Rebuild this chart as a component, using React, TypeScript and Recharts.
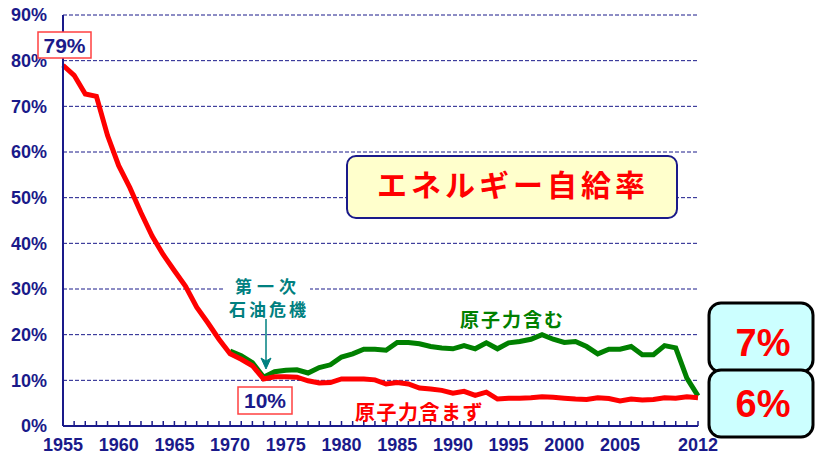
import React from 'react';
import { LineChart, Line, XAxis, YAxis, CartesianGrid } from 'recharts';

const years = [
  1955, 1956, 1957, 1958, 1959, 1960, 1961, 1962, 1963, 1964,
  1965, 1966, 1967, 1968, 1969, 1970, 1971, 1972, 1973, 1974,
  1975, 1976, 1977, 1978, 1979, 1980, 1981, 1982, 1983, 1984,
  1985, 1986, 1987, 1988, 1989, 1990, 1991, 1992, 1993, 1994,
  1995, 1996, 1997, 1998, 1999, 2000, 2001, 2002, 2003, 2004,
  2005, 2006, 2007, 2008, 2009, 2010, 2011, 2012,
];

// 原子力含まず (red)
const withoutNuclear = [
  79.0, 76.8, 72.7, 72.2, 63.6, 57.0, 52.2, 46.7, 41.6, 37.5,
  34.0, 30.6, 26.0, 22.6, 19.0, 15.8, 14.6, 13.2, 10.3, 10.8,
  10.8, 10.7, 9.9, 9.4, 9.5, 10.3, 10.3, 10.3, 10.1, 9.2,
  9.5, 9.2, 8.3, 8.1, 7.8, 7.2, 7.6, 6.7, 7.4, 5.9,
  6.1, 6.1, 6.2, 6.4, 6.3, 6.1, 5.9, 5.8, 6.2, 6.0,
  5.5, 5.9, 5.7, 5.8, 6.2, 6.1, 6.4, 6.2,
];

// 原子力含む (green), only drawn from 1970
const withNuclear = [
  null, null, null, null, null, null, null, null, null, null,
  null, null, null, null, null, 16.4, 15.4, 13.9, 10.7, 11.9,
  12.2, 12.3, 11.6, 12.8, 13.4, 15.1, 15.8, 16.8, 16.8, 16.6,
  18.3, 18.3, 18.0, 17.4, 17.1, 16.9, 17.6, 16.9, 18.2, 16.9,
  18.2, 18.5, 19.0, 20.0, 19.0, 18.3, 18.5, 17.4, 15.8, 16.8,
  16.8, 17.4, 15.6, 15.6, 17.6, 17.1, 10.5, 6.6,
];

const xLabelYears = [1955, 1960, 1965, 1970, 1975, 1980, 1985, 1990, 1995, 2000, 2005, 2012];
const yTicks = [0, 10, 20, 30, 40, 50, 60, 70, 80, 90];

const data = years.map((year, i) => ({
  year,
  without: withoutNuclear[i],
  with: withNuclear[i],
}));

const NAVY = '#1a1a8a';
const FONT = '"Liberation Sans", Arial, "Noto Sans CJK JP", sans-serif';
const JP = '"Noto Sans CJK JP", "Liberation Sans", sans-serif';

const XTick = (props: any) => {
  const { x, y, payload } = props;
  const v = payload.value;
  return (
    <g>
      <line x1={x} x2={x} y1={y - 5} y2={y} stroke={NAVY} strokeWidth={1.5} />
      {xLabelYears.includes(v) && (
        <text x={x} y={y + 25} textAnchor="middle" fill={NAVY} fontSize={18} fontWeight="bold" fontFamily={FONT}>
          {v}
        </text>
      )}
    </g>
  );
};

const App: React.FC = () => {
  return (
    <div style={{ position: 'absolute', left: 0, top: 0, width: 815, height: 456, background: '#fff' }}>
      <LineChart width={815} height={456} data={data} margin={{ top: 15, right: 117, bottom: 0, left: 0 }}>
        <CartesianGrid horizontal vertical={false} stroke={NAVY} strokeDasharray="4 2" strokeWidth={1} />
        <XAxis
          dataKey="year"
          type="number"
          domain={[1955, 2012]}
          ticks={years}
          interval={0}
          height={30}
          tickSize={0}
          tickMargin={0}
          tickLine={false}
          axisLine={{ stroke: NAVY, strokeWidth: 2 }}
          tick={<XTick />}
        />
        <YAxis
          domain={[0, 90]}
          ticks={yTicks}
          interval={0}
          width={63}
          tickSize={0}
          tickMargin={16}
          tickLine={false}
          axisLine={{ stroke: NAVY, strokeWidth: 2 }}
          tickFormatter={(v: number) => `${v}%`}
          tick={{ fill: NAVY, fontSize: 18, fontWeight: 'bold', fontFamily: FONT }}
        />
        <Line dataKey="with" stroke="#008000" strokeWidth={5} dot={false} isAnimationActive={false} connectNulls={false} />
        <Line dataKey="without" stroke="#ff0000" strokeWidth={5} dot={false} isAnimationActive={false} />
      </LineChart>

      <svg width={815} height={456} style={{ position: 'absolute', left: 0, top: 0 }}>
        {/* 79% */}
        <rect x={38} y={32} width={53} height={26} fill="#fff" stroke="#ff4040" strokeWidth={1.5} />
        <text x={64.5} y={53} textAnchor="middle" fill={NAVY} fontSize={21} fontWeight="bold" fontFamily={FONT}>79%</text>

        {/* 10% */}
        <rect x={238} y={387} width={54} height={27} fill="#fff" stroke="#ff4040" strokeWidth={1.5} />
        <text x={265} y={408} textAnchor="middle" fill={NAVY} fontSize={21} fontWeight="bold" fontFamily={FONT}>10%</text>

        {/* title box */}
        <rect x={347} y={156} width={330} height={62} rx={9} fill="#ffffcc" stroke={NAVY} strokeWidth={2} />
        <text x={513} y={196} textAnchor="middle" fill="#ff0000" fontSize={30} fontWeight="bold" fontFamily={JP} letterSpacing={4}>エネルギー自給率</text>

        {/* oil crisis */}
        <rect x={223} y={274} width={87} height={42} fill="#fff" />
        <text x={268} y={293} textAnchor="middle" fill="#008080" fontSize={17} fontWeight="bold" fontFamily={JP} letterSpacing={5}>第一次</text>
        <text x={269} y={316} textAnchor="middle" fill="#008080" fontSize={17} fontWeight="bold" fontFamily={JP} letterSpacing={3}>石油危機</text>
        <line x1={266} y1={319} x2={266} y2={362} stroke="#008080" strokeWidth={1.5} />
        <path d="M261,358 L266,369 L271,358 L266,361 Z" fill="#008080" stroke="#008080" strokeWidth={1} />

        {/* series labels */}
        <text x={460} y={327} fill="#008000" fontSize={19} fontWeight="bold" fontFamily={JP} letterSpacing={2}>原子力含む</text>
        <text x={355} y={420} fill="#ff0000" fontSize={20} fontWeight="bold" fontFamily={JP} letterSpacing={1.5}>原子力含まず</text>

        {/* right value boxes */}
        <rect x={709} y={303} width={104} height={69} rx={12} fill="#ccffff" stroke="#000" strokeWidth={3} />
        <rect x={709} y={370} width={104} height={67} rx={12} fill="#ccffff" stroke="#000" strokeWidth={3} />
        <text x={763} y={356} textAnchor="middle" fill="#ff0000" fontSize={38} fontWeight="bold" fontFamily={FONT}>7%</text>
        <text x={763} y={417} textAnchor="middle" fill="#ff0000" fontSize={38} fontWeight="bold" fontFamily={FONT}>6%</text>
      </svg>
    </div>
  );
};

export default App;
